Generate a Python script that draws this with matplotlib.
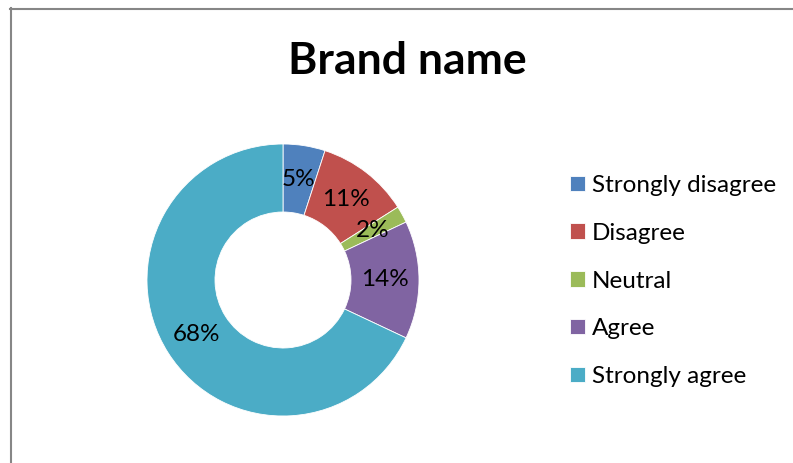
import matplotlib
matplotlib.use("Agg")
import numpy as np
import matplotlib.pyplot as plt
from matplotlib.lines import Line2D

plt.rcParams['font.family'] = ['Lato', 'DejaVu Sans']

# Dados
categorias = ['Strongly disagree', 'Disagree', 'Neutral', 'Agree', 'Strongly agree']
percentuais = [5, 11, 2, 14, 68]
cores = ['#4F81BD', '#C0504D', '#9BBB59', '#8064A2', '#4BACC6']

W, H = 793, 463
fig = plt.figure(figsize=(W / 100, H / 100), dpi=100)

# Moldura cinza (lados esquerdo e superior)
fig.add_artist(Line2D([10.5 / W, 10.5 / W], [0, 1 - 8 / H], color='#868686', lw=1.5,
                      transform=fig.transFigure))
fig.add_artist(Line2D([10 / W, 1], [1 - 8.5 / H, 1 - 8.5 / H], color='#868686', lw=1.5,
                      transform=fig.transFigure))

# Rosca
cx, cy, r = 283, 280, 136
ax = fig.add_axes([(cx - r) / W, (H - cy - r) / H, 2 * r / W, 2 * r / H])
fatias, _ = ax.pie(percentuais, colors=cores, startangle=90, counterclock=False,
                   radius=1, wedgeprops=dict(width=0.5, edgecolor='white', linewidth=0.6))
ax.set_xlim(-1, 1)
ax.set_ylim(-1, 1)
ax.set_aspect('equal')
ax.axis('off')

# Rótulos no meio do anel
for f, p in zip(fatias, percentuais):
    ang = np.deg2rad((f.theta1 + f.theta2) / 2)
    ax.text(0.75 * np.cos(ang), 0.75 * np.sin(ang), f'{p}%', ha='center', va='center',
            fontsize=17.5, color='black')

fig.text(407 / W, 1 - 61 / H, 'Brand name', ha='center', va='center',
         fontsize=32, fontweight='bold')

fig.legend(fatias, categorias, loc='center left', bbox_to_anchor=(570 / W, 1 - 281 / H),
           frameon=False, fontsize=17.5, handlelength=0.6, handleheight=0.6,
           handletextpad=0.3, labelspacing=1.1, borderpad=0, borderaxespad=0)

fig.savefig('out.png', dpi=100)
